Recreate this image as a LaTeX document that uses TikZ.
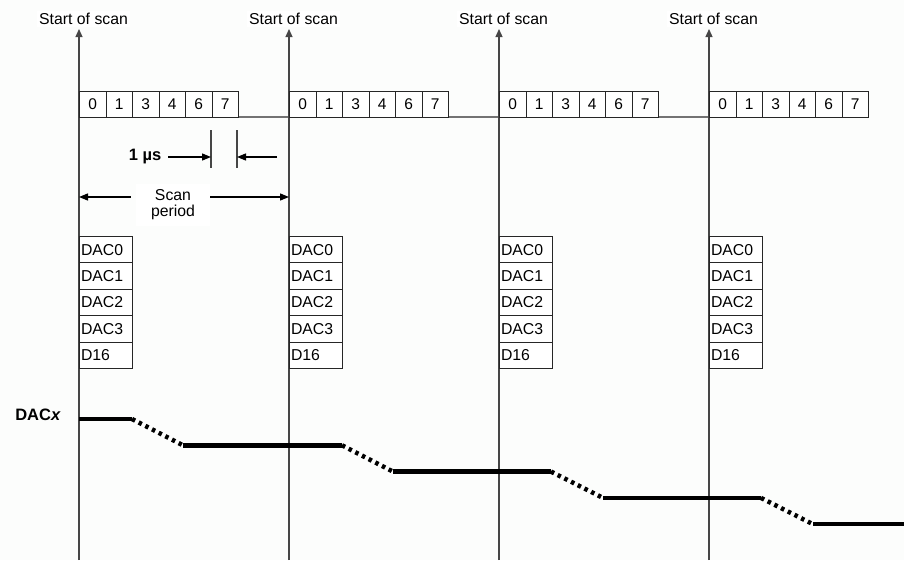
\documentclass[tikz,border=0pt]{standalone}
\usepackage{fontspec}
\setmainfont{Liberation Sans}
\usetikzlibrary{arrows.meta}
\definecolor{bgc}{RGB}{252,253,252}
\definecolor{vline}{RGB}{70,70,70}
\tikzset{
  lbl/.style={font=\fontsize{15.8}{17}\selectfont, inner sep=2pt},
  bitbox/.style={draw=black!85, line width=1pt, fill=white, minimum width=26.5pt, minimum height=26pt, inner sep=0pt, anchor=north west, font=\fontsize{15.5}{17}\selectfont},
  dacbox/.style={draw=black!85, line width=1pt, fill=white, minimum width=53pt, minimum height=26.4pt, inner sep=0pt, inner xsep=1.5pt, text width=50pt, align=left, anchor=north west, font=\fontsize{15.8}{17}\selectfont},
  scanline/.style={draw=vline, line width=1.2pt, -{Triangle[width=7pt,length=8pt]}},
  dimarr/.style={draw=black, line width=1.3pt, -{Triangle[width=7pt,length=9pt]}},
  tick/.style={draw=vline, line width=1.2pt},
  level/.style={line width=4.5pt, black},
  ramp/.style={line width=4.5pt, black, dash pattern=on 3.5pt off 4pt},
}
\begin{document}
\begin{tikzpicture}[x=1pt,y=-1pt]
\fill[bgc] (0,0) rectangle (904,560);
\useasboundingbox (0,0) rectangle (904,560);
% baseline of the bit rows
\coordinate (bl0) at (79,117);
\coordinate (bl1) at (867,117);
\draw[draw=black!55, line width=2pt] (bl0) -- (bl1);
\foreach \c in {0,1,2,3}{
  \pgfmathsetmacro{\xx}{79+210*\c}
  \coordinate (bot\c) at (\xx,560);
  \coordinate (tip\c) at (\xx,29);
  \draw[scanline] (bot\c) -- (tip\c);
  \node[lbl, fill=white, anchor=south west] (sos\c) at (\xx-42,27) {Start of scan};
  \foreach \lab [count=\i from 0] in {0,1,3,4,6,7}{
    \node[bitbox] (b\c-\i) at (\xx+26.5*\i,91) {\lab};
  }
  \foreach \lab [count=\i from 0] in {DAC0,DAC1,DAC2,DAC3,D16}{
    \node[dacbox] (d\c-\i) at (\xx,236+26.4*\i) {\lab};
  }
}
% 1 us marker
\coordinate (t1a) at (211,130); \coordinate (t1b) at (211,168);
\coordinate (t2a) at (237,130); \coordinate (t2b) at (237,168);
\draw[tick] (t1a) -- (t1b);
\draw[tick] (t2a) -- (t2b);
\node[font=\fontsize{16.5}{18}\selectfont\bfseries, inner sep=1pt] (us) at (145,157) {1 µs};
\coordinate (usR) at (211,157);
\coordinate (usS) at (277,157);
\coordinate (usE) at (237,157);
\draw[dimarr, shorten <=6pt] (us.east) -- (usR);
\draw[dimarr] (usS) -- (usE);
% scan period
\node[lbl, fill=white, align=center, minimum width=74pt, minimum height=42pt, inner sep=0pt] (sp) at (173,205) {Scan\\[-1pt]period};
\coordinate (spL) at (79,197);
\coordinate (spR) at (289,197);
\draw[dimarr] (sp.west |- spL) ++(-5,0) -- (spL);
\draw[dimarr] (sp.east |- spR) -- (spR);
% DACx waveform
\node[font=\fontsize{16.5}{18}\selectfont\bfseries, inner sep=0pt] (dacx) at (38,415) {DAC\textit{x}};
\coordinate (w0) at (79,419);
\coordinate (w1) at (132,419);
\coordinate (w2) at (183,445.3);
\coordinate (w3) at (342,445.3);
\coordinate (w4) at (393,471.6);
\coordinate (w5) at (551,471.6);
\coordinate (w6) at (603,497.9);
\coordinate (w7) at (761,497.9);
\coordinate (w8) at (813,524.2);
\coordinate (w9) at (904,524.2);
\draw[level] (w0) -- (w1);
\draw[ramp] (w1) -- (w2);
\draw[level] (w2) -- (w3);
\draw[ramp] (w3) -- (w4);
\draw[level] (w4) -- (w5);
\draw[ramp] (w5) -- (w6);
\draw[level] (w6) -- (w7);
\draw[ramp] (w7) -- (w8);
\draw[level] (w8) -- (w9);
\end{tikzpicture}
\end{document}
